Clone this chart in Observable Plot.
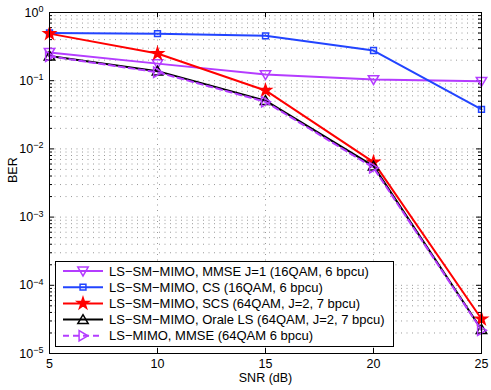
<!DOCTYPE html>
<html><head><meta charset="utf-8">
<script src="https://cdn.jsdelivr.net/npm/d3@7"></script>
<script src="https://cdn.jsdelivr.net/npm/@observablehq/plot@0.6"></script>
<style>body{margin:0;background:#fff} svg{font-family:"Liberation Sans",Arial,sans-serif}</style>
</head><body><div id="chart"></div>
<script>
// ---- data ----
const snr = [5, 10, 15, 20, 25];
const berMmseJ1   = [0.26, 0.178, 0.123, 0.104, 0.098];
const berCs       = [0.50, 0.49, 0.455, 0.277, 0.038];
const berScs      = [0.49, 0.25, 0.072, 0.0064, 3.2e-5];
const berOracle   = [0.23, 0.138, 0.051, 0.0056, 2.25e-5];
const berMimoMmse = [0.228, 0.133, 0.049, 0.0053, 2.2e-5];
const seriesNames = [
  "LS\u2212SM\u2212MIMO, MMSE J=1 (16QAM, 6 bpcu)",
  "LS\u2212SM\u2212MIMO, CS (16QAM, 6 bpcu)",
  "LS\u2212SM\u2212MIMO, SCS (64QAM, J=2, 7 bpcu)",
  "LS\u2212SM\u2212MIMO, Orale LS (64QAM, J=2, 7 bpcu)",
  "LS\u2212MIMO, MMSE (64QAM 6 bpcu)"
];
const xTicks = [5, 10, 15, 20, 25];
const yDecades = [1e-5, 1e-4, 1e-3, 1e-2, 1e-1, 1];
const yExponents = ["\u22125", "\u22124", "\u22123", "\u22122", "\u22121", "0"];
const xLabel = "SNR (dB)";
const yLabel = "BER";

// ---- layout ----
const W = 491, H = 390, mL = 49, mR = 10, mT = 12, mB = 37;
const pw = W - mL - mR, ph = H - mT - mB;
const yMinor = [];
yDecades.slice(0, -1).forEach(d => { for (let k = 2; k <= 9; k++) yMinor.push(d * k); });

// ---- symbols ----
const triDown = {draw(c, s) { const r = Math.sqrt(s / Math.PI) * 1.3; c.moveTo(-r, -0.75 * r); c.lineTo(r, -0.75 * r); c.lineTo(0, 0.95 * r); c.closePath(); }};
const triUp = {draw(c, s) { const r = Math.sqrt(s / Math.PI) * 1.3; c.moveTo(-r, 0.75 * r); c.lineTo(r, 0.75 * r); c.lineTo(0, -0.95 * r); c.closePath(); }};
const triRight = {draw(c, s) { const r = Math.sqrt(s / Math.PI) * 1.3; c.moveTo(-0.75 * r, -r); c.lineTo(-0.75 * r, r); c.lineTo(0.95 * r, 0); c.closePath(); }};

const purple = "#b43cff", blue = "#2244ff", red = "#ff0000", black = "#000000";
const series = [
  {name: seriesNames[0], vals: berMmseJ1, color: purple, symbol: triDown, r: 4, fill: "none", dash: null},
  {name: seriesNames[1], vals: berCs, color: blue, symbol: d3.symbolSquare, r: 3.3, fill: "none", dash: null},
  {name: seriesNames[2], vals: berScs, color: red, symbol: d3.symbolStar, r: 3.6, fill: red, dash: null},
  {name: seriesNames[3], vals: berOracle, color: black, symbol: triUp, r: 4, fill: "none", dash: null},
  {name: seriesNames[4], vals: berMimoMmse, color: purple, symbol: triRight, r: 4, fill: "none", dash: "6,4"}
];

const marks = [
  Plot.ruleY([...yMinor, ...yDecades.slice(1, -1)], {y: d => d, stroke: "#999", strokeWidth: 1, strokeDasharray: "1,4.5"}),
  Plot.ruleX(xTicks.slice(1, -1), {x: d => d, stroke: "#999", strokeWidth: 1, strokeDasharray: "1,4.5"}),
  // inward ticks
  Plot.tickX(xTicks, {x: d => d, insetTop: ph - 5, stroke: "black"}),
  Plot.tickX(xTicks, {x: d => d, insetBottom: ph - 5, stroke: "black"}),
  Plot.tickY(yDecades, {y: d => d, insetRight: pw - 5, stroke: "black"}),
  Plot.tickY(yDecades, {y: d => d, insetLeft: pw - 5, stroke: "black"}),
  Plot.tickY(yMinor, {y: d => d, insetRight: pw - 3, stroke: "black"}),
  Plot.tickY(yMinor, {y: d => d, insetLeft: pw - 3, stroke: "black"}),
  Plot.axisX(xTicks, {tickSize: 0, tickPadding: 6, tickFormat: d => String(d), fontSize: 12.5, label: null}),
  Plot.axisY(yDecades, {tickSize: 0, tickPadding: 6, tickFormat: (d, i) => "10^" + yExponents[yDecades.indexOf(d)], fontSize: 12.5, label: null}),
  Plot.text([xLabel], {frameAnchor: "bottom", dy: 28, text: d => d, fontSize: 12.5}),
  Plot.text([yLabel], {frameAnchor: "left", dx: -37, rotate: -90, text: d => d, fontSize: 12.5})
];
for (const s of series) {
  const pts = snr.map((x, i) => ({x, y: s.vals[i]}));
  marks.push(Plot.line(pts, {x: "x", y: "y", stroke: s.color, strokeWidth: 2, strokeDasharray: s.dash}));
  marks.push(Plot.dot(pts, {x: "x", y: "y", symbol: s.symbol, r: s.r, stroke: s.color, fill: s.fill, strokeWidth: 1.5}));
}
marks.push(Plot.frame({stroke: "black"}));

const chart = Plot.plot({
  width: W, height: H,
  marginLeft: mL, marginRight: mR, marginTop: mT, marginBottom: mB,
  style: {fontFamily: "'Liberation Sans', Arial, sans-serif", fontSize: "12px", color: "black", background: "white"},
  x: {domain: [5, 25], axis: null},
  y: {type: "log", domain: [1e-5, 1], axis: null},
  marks
});

// superscript exponents
d3.select(chart).selectAll('[aria-label="y-axis tick label"] text').each(function () {
  const t = this.textContent;
  if (!t.includes("^")) return;
  const e = t.split("^")[1];
  const sel = d3.select(this);
  sel.text("10");
  sel.append("tspan").attr("dy", "-0.5em").attr("font-size", "0.72em").text(e);
});

// legend
const lg = d3.select(chart).append("g").attr("font-size", 13).attr("text-anchor", "start").attr("font-family", "'Liberation Sans', Arial, sans-serif");
const bx = 55, by = 261, bw = 338, bh = 85, rowH = 16.2, row0 = 271;
lg.append("rect").attr("x", bx + 0.5).attr("y", by + 0.5).attr("width", bw).attr("height", bh).attr("fill", "white").attr("stroke", "black");
series.forEach((s, i) => {
  const yy = row0 + i * rowH;
  lg.append("line").attr("x1", 63).attr("x2", 103).attr("y1", yy).attr("y2", yy).attr("stroke", s.color).attr("stroke-width", 2).attr("stroke-dasharray", s.dash);
  lg.append("path").attr("d", d3.symbol(s.symbol, Math.PI * s.r * s.r)()).attr("transform", `translate(83,${yy})`)
    .attr("stroke", s.color).attr("fill", s.fill === "none" ? "none" : s.fill).attr("stroke-width", 1.5);
  lg.append("text").attr("x", 109).attr("y", yy).attr("dy", "0.35em").attr("fill", "black").attr("text-anchor", "start").text(s.name);
});

document.getElementById("chart").appendChild(chart);
</script>
</body></html>
